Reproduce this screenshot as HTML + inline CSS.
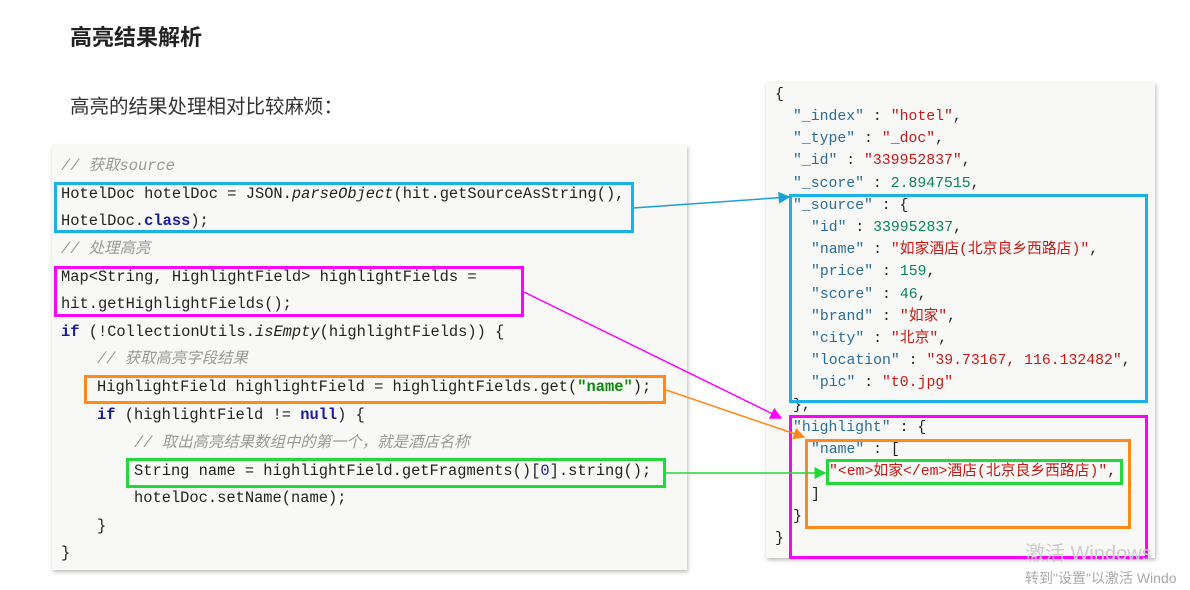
<!DOCTYPE html>
<html><head><meta charset="utf-8"><style>
body{margin:0;width:1190px;height:590px;background:#fff;position:relative;overflow:hidden;font-family:"Liberation Sans","Noto Sans CJK SC",sans-serif}
.a{position:absolute;white-space:pre;line-height:20px;height:20px}
.code{font-family:"Liberation Mono","Noto Sans CJK SC",monospace;font-size:15.4px;color:#222}
.js{font-family:"Liberation Mono","Noto Sans CJK SC",monospace;font-size:14.8px;color:#222}
.c{color:#999;font-style:italic}.k{color:#1a1aa0;font-weight:bold}.s{color:#0a8a0a;font-weight:bold}
.key{color:#2a6c9a}.str{color:#c41a16}.num{color:#098658}
.box{position:absolute;border:3px solid;box-sizing:border-box}
</style></head><body>
<div class="a" style="left:70px;top:26px;font-size:22px;line-height:24px;height:24px;font-weight:bold;color:#222">高亮结果解析</div>
<div class="a" style="left:70px;top:95px;font-size:19.5px;line-height:24px;height:24px;color:#333">高亮的结果处理相对比较麻烦：</div>

<div style="position:absolute;left:52px;top:145px;width:635px;height:425px;background:#f8f8f6;box-shadow:1px 2px 4px #bbb"></div>
<div style="position:absolute;left:766px;top:82px;width:389px;height:476px;background:#f8f8f6;box-shadow:1px 2px 4px #bbb"></div>

<div class="code">
<div class="a c" style="left:61px;top:156px">// 获取source</div>
<div class="a" style="left:61px;top:184px">HotelDoc hotelDoc = JSON.<i>parseObject</i>(hit.getSourceAsString(),</div>
<div class="a" style="left:61px;top:211px">HotelDoc.<span class="k">class</span>);</div>
<div class="a c" style="left:61px;top:239px">// 处理高亮</div>
<div class="a" style="left:61px;top:267px">Map&lt;String, HighlightField&gt; highlightFields =</div>
<div class="a" style="left:61px;top:294px">hit.getHighlightFields();</div>
<div class="a" style="left:61px;top:322px"><span class="k">if</span> (!CollectionUtils.<i>isEmpty</i>(highlightFields)) {</div>
<div class="a c" style="left:97px;top:349px">// 获取高亮字段结果</div>
<div class="a" style="left:97px;top:377px">HighlightField highlightField = highlightFields.get(<span class="s">"name"</span>);</div>
<div class="a" style="left:97px;top:405px"><span class="k">if</span> (highlightField != <span class="k">null</span>) {</div>
<div class="a c" style="left:134px;top:433px">// 取出高亮结果数组中的第一个，就是酒店名称</div>
<div class="a" style="left:134px;top:461px">String name = highlightField.getFragments()[<span style="color:#1a1aa0">0</span>].string();</div>
<div class="a" style="left:134px;top:488px">hotelDoc.setName(name);</div>
<div class="a" style="left:97px;top:516px">}</div>
<div class="a" style="left:61px;top:543px">}</div>
</div>

<div class="js">
<div class="a" style="left:775px;top:85px">{</div>
<div class="a" style="left:793px;top:107px"><span class="key">"_index"</span> : <span class="str">"hotel"</span>,</div>
<div class="a" style="left:793px;top:129px"><span class="key">"_type"</span> : <span class="str">"_doc"</span>,</div>
<div class="a" style="left:793px;top:151px"><span class="key">"_id"</span> : <span class="str">"339952837"</span>,</div>
<div class="a" style="left:793px;top:174px"><span class="key">"_score"</span> : <span class="num">2.8947515</span>,</div>
<div class="a" style="left:793px;top:196px"><span class="key">"_source"</span> : {</div>
<div class="a" style="left:811px;top:218px"><span class="key">"id"</span> : <span class="num">339952837</span>,</div>
<div class="a" style="left:811px;top:240px"><span class="key">"name"</span> : <span class="str">"如家酒店(北京良乡西路店)"</span>,</div>
<div class="a" style="left:811px;top:262px"><span class="key">"price"</span> : <span class="num">159</span>,</div>
<div class="a" style="left:811px;top:285px"><span class="key">"score"</span> : <span class="num">46</span>,</div>
<div class="a" style="left:811px;top:307px"><span class="key">"brand"</span> : <span class="str">"如家"</span>,</div>
<div class="a" style="left:811px;top:329px"><span class="key">"city"</span> : <span class="str">"北京"</span>,</div>
<div class="a" style="left:811px;top:351px"><span class="key">"location"</span> : <span class="str">"39.73167, 116.132482"</span>,</div>
<div class="a" style="left:811px;top:373px"><span class="key">"pic"</span> : <span class="str">"t0.jpg"</span></div>
<div class="a" style="left:793px;top:396px">},</div>
<div class="a" style="left:793px;top:418px"><span class="key">"highlight"</span> : {</div>
<div class="a" style="left:811px;top:440px"><span class="key">"name"</span> : [</div>
<div class="a" style="left:829px;top:462px"><span class="str">"&lt;em&gt;如家&lt;/em&gt;酒店(北京良乡西路店)"</span>,</div>
<div class="a" style="left:811px;top:485px">]</div>
<div class="a" style="left:793px;top:507px">}</div>
<div class="a" style="left:775px;top:529px">}</div>
</div>

<div class="box" style="left:54px;top:182px;width:580px;height:51px;border-color:#1ab0e8"></div>
<div class="box" style="left:54px;top:266px;width:470px;height:51px;border-color:#f0f"></div>
<div class="box" style="left:84px;top:375px;width:582px;height:29px;border-color:#ff8a1a"></div>
<div class="box" style="left:126px;top:458px;width:540px;height:30px;border-color:#22d83a"></div>
<div class="box" style="left:789px;top:194px;width:359px;height:209px;border-color:#1ab0e8"></div>
<div class="box" style="left:789px;top:415px;width:359px;height:144px;border-color:#f0f"></div>
<div class="box" style="left:805px;top:439px;width:326px;height:90px;border-color:#ff8a1a"></div>
<div class="box" style="left:826px;top:459px;width:297px;height:26px;border-color:#22d83a"></div>

<svg style="position:absolute;left:0;top:0" width="1190" height="590">
<defs>
<marker id="mb" markerWidth="8" markerHeight="8" refX="7" refY="4" orient="auto"><path d="M0,0L8,4L0,8z" fill="#1aa0d8"/></marker>
<marker id="mm" markerWidth="8" markerHeight="8" refX="7" refY="4" orient="auto"><path d="M0,0L8,4L0,8z" fill="#f0f"/></marker>
<marker id="mo" markerWidth="8" markerHeight="8" refX="7" refY="4" orient="auto"><path d="M0,0L8,4L0,8z" fill="#ff8a1a"/></marker>
<marker id="mg" markerWidth="8" markerHeight="8" refX="7" refY="4" orient="auto"><path d="M0,0L8,4L0,8z" fill="#22d83a"/></marker>
</defs>
<line x1="634" y1="208" x2="789" y2="197" stroke="#1aa0d8" stroke-width="1.5" marker-end="url(#mb)"/>
<line x1="524" y1="292" x2="781" y2="418" stroke="#f0f" stroke-width="1.5" marker-end="url(#mm)"/>
<line x1="666" y1="390" x2="804" y2="437" stroke="#ff8a1a" stroke-width="1.5" marker-end="url(#mo)"/>
<line x1="666" y1="473" x2="825" y2="473" stroke="#22d83a" stroke-width="1.5" marker-end="url(#mg)"/>
</svg>
<div class="a" style="left:1025px;top:542px;font-size:20px;line-height:24px;height:24px;color:#ccc">激活 Windows</div>
<div class="a" style="left:1025px;top:568px;font-size:14px;color:#aaa">转到"设置"以激活 Windo</div>
</body></html>
